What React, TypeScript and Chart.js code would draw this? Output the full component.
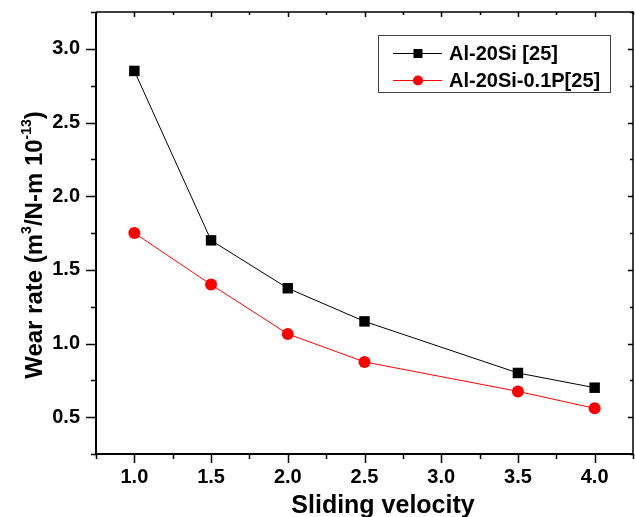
import React, { useEffect, useRef } from "react";
import { Chart, registerables } from "chart.js";

Chart.register(...registerables);

const velocity = [1.0, 1.5, 2.0, 2.5, 3.5, 4.0];
const al20Si = [2.85, 1.7, 1.375, 1.15, 0.8, 0.7];
const al20SiP = [1.75, 1.4, 1.065, 0.875, 0.675, 0.56];
const seriesNames = ["Al-20Si [25]", "Al-20Si-0.1P[25]"];
const xTitle = "Sliding velocity";

const FONT = "'Liberation Sans', Arial, Helvetica, sans-serif";

const isMajor = (v: number) => Math.abs(v * 2 - Math.round(v * 2)) < 1e-6;

const framePlugin = {
  id: "frame",
  afterDraw(chart: any) {
    const ctx = chart.ctx;
    const { left, right, top, bottom } = chart.chartArea;
    const xs = chart.scales.x;
    const ys = chart.scales.y;
    ctx.save();
    ctx.strokeStyle = "#000";
    ctx.lineWidth = 1.5;
    ctx.beginPath();
    ctx.moveTo(left, top);
    ctx.lineTo(right, top);
    ctx.lineTo(right, bottom);
    ctx.stroke();
    ctx.lineWidth = 2;
    ctx.beginPath();
    ctx.moveTo(left, top);
    ctx.lineTo(left, bottom);
    ctx.lineTo(right, bottom);
    ctx.stroke();
    ctx.lineWidth = 1.5;
    ctx.beginPath();
    xs.ticks.forEach((t: any) => {
      const px = Math.round(xs.getPixelForValue(t.value)) + 0.5;
      const L = isMajor(t.value) ? 9 : 5;
      ctx.moveTo(px, bottom);
      ctx.lineTo(px, bottom + L);
      ctx.moveTo(px, top);
      ctx.lineTo(px, top + (isMajor(t.value) ? 5 : 3));
    });
    ys.ticks.forEach((t: any) => {
      const py = Math.round(ys.getPixelForValue(t.value)) + 0.5;
      const L = isMajor(t.value) ? 10 : 5;
      ctx.moveTo(left, py);
      ctx.lineTo(left - L, py);
      ctx.moveTo(right, py);
      ctx.lineTo(right - (isMajor(t.value) ? 5 : 3), py);
    });
    ctx.stroke();

    ctx.fillStyle = "#000";
    ctx.font = `bold 25px ${FONT}`;
    ctx.textAlign = "center";
    ctx.textBaseline = "alphabetic";
    ctx.fillText(xTitle, 383, 513);

    const big = `bold 24px ${FONT}`;
    const small = `bold 14px ${FONT}`;
    const segs: [string, boolean][] = [
      ["Wear rate (m", false],
      ["3", true],
      ["/N-m 10", false],
      ["-13", true],
      [")", false],
    ];
    let total = 0;
    const widths = segs.map(([s, sup]) => {
      ctx.font = sup ? small : big;
      const w = ctx.measureText(s).width;
      total += w;
      return w;
    });
    ctx.translate(42, 245);
    ctx.rotate(-Math.PI / 2);
    ctx.textAlign = "left";
    let x = -total / 2;
    segs.forEach(([s, sup], i) => {
      ctx.font = sup ? small : big;
      ctx.fillText(s, x, sup ? -11 : 0);
      x += widths[i];
    });
    ctx.restore();

    ctx.save();
    ctx.strokeStyle = "#444";
    ctx.lineWidth = 1;
    ctx.strokeRect(378.5, 35.5, 232, 57);
    const rows = [
      { y: 53, color: "#000", shape: "rect" },
      { y: 80, color: "#ff0000", shape: "circle" },
    ];
    rows.forEach((r, i) => {
      ctx.strokeStyle = r.color;
      ctx.fillStyle = r.color;
      ctx.lineWidth = 1;
      ctx.beginPath();
      ctx.moveTo(393, r.y + 0.5);
      ctx.lineTo(442, r.y + 0.5);
      ctx.stroke();
      if (r.shape === "rect") {
        ctx.fillRect(418 - 4.5, r.y - 4, 9, 9);
      } else {
        ctx.beginPath();
        ctx.arc(418, r.y + 0.5, 5, 0, Math.PI * 2);
        ctx.fill();
      }
      ctx.fillStyle = "#000";
      ctx.font = `bold 20px ${FONT}`;
      ctx.textAlign = "left";
      ctx.textBaseline = "middle";
      ctx.fillText(seriesNames[i], 449, r.y + 1);
    });
    ctx.restore();
  },
};

export default function App() {
  const ref = useRef<HTMLCanvasElement | null>(null);
  useEffect(() => {
    if (!ref.current) return;
    const chart = new Chart(ref.current, {
      type: "line",
      data: {
        datasets: [
          {
            label: seriesNames[0],
            data: velocity.map((v, i) => ({ x: v, y: al20Si[i] })),
            borderColor: "#000",
            backgroundColor: "#000",
            borderWidth: 1,
            pointStyle: "rect",
            pointRadius: 7.4,
            pointBorderWidth: 0,
          },
          {
            label: seriesNames[1],
            data: velocity.map((v, i) => ({ x: v, y: al20SiP[i] })),
            borderColor: "#ff0000",
            backgroundColor: "#ff0000",
            borderWidth: 1,
            pointStyle: "circle",
            pointRadius: 6,
            pointBorderWidth: 0,
          },
        ],
      },
      options: {
        animation: false,
        responsive: false,
        maintainAspectRatio: false,
        layout: { autoPadding: false, padding: { top: 12, right: 2, left: 0, bottom: 0 } },
        plugins: { legend: { display: false }, tooltip: { enabled: false } },
        scales: {
          x: {
            type: "linear",
            min: 0.75,
            max: 4.25,
            grid: { display: false, drawTicks: false },
            border: { display: false },
            ticks: {
              stepSize: 0.25,
              autoSkip: false,
              maxRotation: 0,
              padding: 11,
              color: "#000",
              font: { family: FONT, size: 20, weight: "bold" },
              callback: (v: any) =>
                isMajor(v) && v >= 1 && v <= 4 ? Number(v).toFixed(1) : "",
            },
            afterFit: (s: any) => {
              s.height = 63;
              s.paddingLeft = 0;
              s.paddingRight = 0;
            },
          },
          y: {
            min: 0.25,
            max: 3.25,
            grid: { display: false, drawTicks: false },
            border: { display: false },
            ticks: {
              stepSize: 0.25,
              autoSkip: false,
              padding: 16,
              color: "#000",
              font: { family: FONT, size: 20, weight: "bold" },
              callback: (v: any) =>
                isMajor(v) && v >= 0.5 && v <= 3 ? Number(v).toFixed(1) : "",
            },
            afterFit: (s: any) => {
              s.width = 96;
              s.paddingTop = 0;
              s.paddingBottom = 0;
            },
          },
        },
      },
      plugins: [framePlugin],
    });
    return () => chart.destroy();
  }, []);
  return (
    <div style={{ position: "fixed", left: 0, top: 0, width: 635, height: 517, background: "#fff" }}>
      <canvas ref={ref} width={635} height={517} style={{ width: 635, height: 517 }} />
    </div>
  );
}
